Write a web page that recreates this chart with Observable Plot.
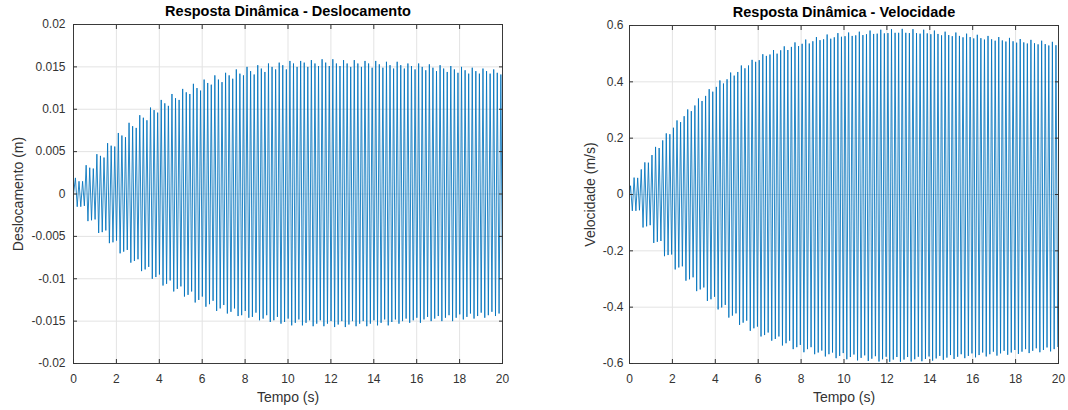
<!DOCTYPE html>
<html>
<head>
<meta charset="utf-8">
<script src="https://cdn.jsdelivr.net/npm/d3@7"></script>
<script src="https://cdn.jsdelivr.net/npm/@observablehq/plot@0.6"></script>
<style>
  html, body { margin: 0; padding: 0; background: #fff; }
  #wrap { display: flex; width: 1068px; height: 410px; }
</style>
</head>
<body>
<div id="wrap"></div>
<script>
// ---- Data ----
// Oscillation frequency (peaks every 1/6 s) and time of the first extremum
const freqHz = 6;
const dispT0 = 0.09;
const velT0 = 0.048;

// Displacement (m): successive positive peaks
const dispPeaks = [
  .0019,.0015,.0015, .0034,.0031,.0030, .0047,.0045,.0043, .0060,.0057,.0056,
  .0072,.0069,.0067, .0084,.0080,.0078, .0093,.0090,.0087, .0102,.0099,.0096,
  .0111,.0107,.0104, .0118,.0113,.0111, .0124,.0120,.0118, .0130,.0125,.0122,
  .0135,.0131,.0129, .0140,.0135,.0132, .0143,.0140,.0136, .0147,.0142,.0140,
  .0150,.0145,.0141, .0152,.0148,.0144, .0154,.0150,.0147, .0155,.0152,.0147,
  .0157,.0154,.0150, .0157,.0155,.0150, .0158,.0154,.0151, .0159,.0155,.0151,
  .0159,.0154,.0151, .0158,.0154,.0150, .0158,.0154,.0150, .0157,.0154,.0149,
  .0157,.0153,.0149, .0156,.0152,.0148, .0156,.0152,.0148, .0154,.0151,.0147,
  .0154,.0150,.0146, .0153,.0149,.0145, .0152,.0148,.0144, .0151,.0147,.0143,
  .0150,.0146,.0142, .0149,.0145,.0142, .0148,.0145,.0142, .0147,.0143,.0141
];
// Displacement (m): successive negative troughs
const dispTroughs = [
  -.0015,-.0015,-.0014, -.0032,-.0031,-.0030, -.0046,-.0045,-.0043, -.0058,-.0057,-.0055,
  -.0070,-.0068,-.0066, -.0081,-.0079,-.0077, -.0091,-.0089,-.0086, -.0100,-.0098,-.0095,
  -.0108,-.0106,-.0102, -.0115,-.0112,-.0109, -.0121,-.0119,-.0115, -.0128,-.0125,-.0121,
  -.0133,-.0130,-.0126, -.0138,-.0135,-.0131, -.0141,-.0139,-.0135, -.0144,-.0143,-.0138,
  -.0146,-.0145,-.0140, -.0149,-.0147,-.0143, -.0151,-.0149,-.0145, -.0153,-.0151,-.0147,
  -.0155,-.0152,-.0148, -.0155,-.0152,-.0149, -.0156,-.0153,-.0149, -.0156,-.0153,-.0150,
  -.0157,-.0154,-.0150, -.0157,-.0154,-.0150, -.0156,-.0153,-.0150, -.0156,-.0153,-.0149,
  -.0155,-.0152,-.0148, -.0155,-.0151,-.0148, -.0153,-.0150,-.0147, -.0152,-.0149,-.0146,
  -.0152,-.0148,-.0145, -.0150,-.0147,-.0144, -.0150,-.0146,-.0143, -.0150,-.0146,-.0142,
  -.0148,-.0145,-.0141, -.0147,-.0144,-.0140, -.0146,-.0143,-.0139, -.0144,-.0141,-.0138
];
// Velocity (m/s): successive positive peaks
const velPeaks = [
  .031,.060,.059, .089,.114,.113, .140,.169,.165, .192,.217,.214,
  .237,.263,.257, .278,.302,.296, .316,.341,.332, .350,.374,.365,
  .382,.405,.394, .409,.433,.422, .435,.458,.448, .458,.478,.471,
  .477,.498,.492, .497,.513,.500, .512,.526,.513, .524,.540,.527,
  .535,.550,.536, .544,.559,.548, .551,.568,.553, .558,.573,.560,
  .562,.575,.563, .565,.578,.566, .569,.582,.570, .571,.585,.572,
  .573,.587,.574, .574,.588,.574, .573,.587,.573, .571,.585,.572,
  .569,.582,.570, .565,.578,.566, .562,.575,.563, .558,.571,.559,
  .554,.567,.555, .550,.563,.551, .546,.559,.547, .543,.556,.544,
  .539,.552,.540, .536,.549,.537, .533,.546,.534, .529,.542,.530
];
// Velocity (m/s): successive negative troughs
const velTroughs = [
  -.058,-.058,-.056, -.117,-.113,-.109, -.172,-.168,-.165, -.219,-.215,-.213,
  -.266,-.259,-.255, -.306,-.301,-.294, -.343,-.337,-.330, -.378,-.372,-.363,
  -.408,-.401,-.392, -.437,-.430,-.422, -.463,-.455,-.448, -.484,-.475,-.469,
  -.504,-.499,-.490, -.519,-.513,-.504, -.536,-.528,-.519, -.549,-.542,-.534,
  -.560,-.549,-.542, -.567,-.561,-.554, -.575,-.567,-.561, -.581,-.573,-.563,
  -.585,-.577,-.568, -.589,-.580,-.571, -.591,-.583,-.574, -.593,-.585,-.576,
  -.594,-.586,-.577, -.594,-.586,-.577, -.593,-.585,-.576, -.592,-.584,-.575,
  -.590,-.582,-.573, -.587,-.579,-.570, -.584,-.576,-.567, -.581,-.573,-.564,
  -.578,-.570,-.561, -.575,-.567,-.558, -.572,-.564,-.555, -.569,-.561,-.552,
  -.566,-.558,-.549, -.563,-.555,-.546, -.560,-.552,-.543, -.557,-.549,-.540
];

const xTicks = [0, 2, 4, 6, 8, 10, 12, 14, 16, 18, 20];
const dispTicks = [-0.02, -0.015, -0.01, -0.005, 0, 0.005, 0.01, 0.015, 0.02];
const velTicks = [-0.6, -0.4, -0.2, 0, 0.2, 0.4, 0.6];

const titles = ["Resposta Dinâmica - Deslocamento", "Resposta Dinâmica - Velocidade"];
const yLabels = ["Deslocamento (m)", "Velocidade (m/s)"];
const xLabel = "Tempo (s)";

// ---- Build line series (peak / trough alternating in time) ----
function buildSeries(peaks, troughs, t0) {
  const pts = [{t: 0, v: 0}];
  peaks.forEach((p, i) => {
    pts.push({t: t0 + i / freqHz, v: p});
    pts.push({t: t0 + (i + 0.5) / freqHz, v: troughs[i]});
  });
  return pts;
}

const FONT = "'Liberation Sans', Arial, Helvetica, sans-serif";
const INK = "#333333";
const GRID = "#e3e3e3";
const TICK = 4;

function chart({data, yDomain, yTicks, title, ylabel, marginLeft, marginRight, marginTop, ylabelDx, yTickPad}) {
  return Plot.plot({
    width: 534,
    height: 410,
    marginLeft, marginRight, marginTop,
    marginBottom: 47,
    style: {fontFamily: FONT, background: "white", color: INK, overflow: "visible"},
    x: {domain: [0, 20]},
    y: {domain: yDomain},
    marks: [
      Plot.gridX(xTicks, {stroke: GRID, strokeOpacity: 1}),
      Plot.gridY(yTicks, {stroke: GRID, strokeOpacity: 1}),
      Plot.line(data, {x: "t", y: "v", stroke: "#0072BD", strokeWidth: 0.85, clip: true}),
      Plot.frame({stroke: "#3a3a3a", strokeWidth: 1}),
      // tick labels
      Plot.axisX({ticks: xTicks, tickSize: 0, tickPadding: 11, tickFormat: d => String(d), fontSize: 12, label: null, fill: INK}),
      Plot.axisY({ticks: yTicks, tickSize: 0, tickPadding: yTickPad, tickFormat: d => String(d), fontSize: 12, label: null, fill: INK}),
      // inward ticks on all four sides
      Plot.axisX({ticks: xTicks, anchor: "bottom", tickSize: TICK, dy: -TICK, tickFormat: () => "", label: null, stroke: INK}),
      Plot.axisX({ticks: xTicks, anchor: "top", tickSize: TICK, dy: TICK, tickFormat: () => "", label: null, stroke: INK}),
      Plot.axisY({ticks: yTicks, anchor: "left", tickSize: TICK, dx: TICK, tickFormat: () => "", label: null, stroke: INK}),
      Plot.axisY({ticks: yTicks, anchor: "right", tickSize: TICK, dx: -TICK, tickFormat: () => "", label: null, stroke: INK}),
      // title and axis labels
      Plot.text([title], {text: d => d, frameAnchor: "top", lineAnchor: "middle", dy: -13, fontWeight: "bold", fontSize: 14.5, fill: "#000"}),
      Plot.text([xLabel], {text: d => d, frameAnchor: "bottom", lineAnchor: "middle", dy: 34, fontSize: 14, fill: INK}),
      Plot.text([ylabel], {text: d => d, frameAnchor: "left", lineAnchor: "middle", textAnchor: "middle", rotate: -90, dx: ylabelDx, fontSize: 14, fill: INK})
    ]
  });
}

const wrap = document.getElementById("wrap");
wrap.appendChild(chart({
  data: buildSeries(dispPeaks, dispTroughs, dispT0),
  yDomain: [-0.02, 0.02], yTicks: dispTicks,
  title: titles[0], ylabel: yLabels[0],
  marginLeft: 73, marginRight: 32, marginTop: 24,
  ylabelDx: -55, yTickPad: 8
}));
wrap.appendChild(chart({
  data: buildSeries(velPeaks, velTroughs, velT0),
  yDomain: [-0.6, 0.6], yTicks: velTicks,
  title: titles[1], ylabel: yLabels[1],
  marginLeft: 95, marginRight: 10, marginTop: 25,
  ylabelDx: -39, yTickPad: 6
}));
</script>
</body>
</html>
